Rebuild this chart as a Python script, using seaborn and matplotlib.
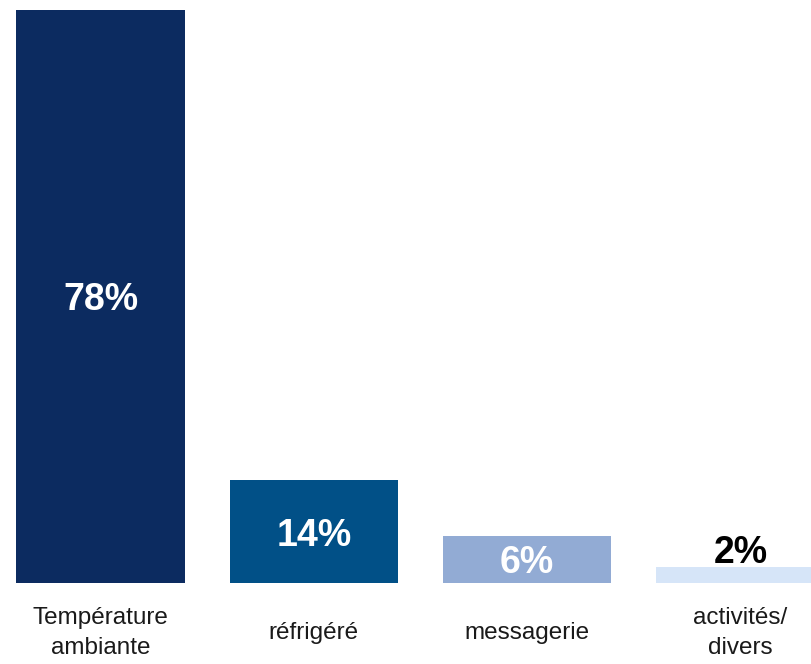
import matplotlib
matplotlib.use("Agg")
import matplotlib.pyplot as plt
import seaborn as sns
import pandas as pd

categories = ["Température\nambiante", "réfrigéré", "messagerie", "activités/\ndivers"]
values = [78, 14, 6.4, 2.2]
labels = ["78%", "14%", "6%", "2%"]
colors = ["#0C2B60", "#015087", "#92ABD4", "#D6E5F8"]
label_colors = ["white", "white", "white", "black"]

sns.set_theme(style="white")
plt.rcParams["font.family"] = ["Liberation Sans", "DejaVu Sans"]

df = pd.DataFrame({"cat": categories, "val": values})

fig = plt.figure(figsize=(8.11, 6.64), dpi=100)
ax = fig.add_axes([0, 81 / 664, 1, 573 / 664])
sns.barplot(data=df, x="cat", y="val", hue="cat", palette=colors, legend=False,
            width=0.79, saturation=1, linewidth=0, ax=ax)
ax.set_xlim(-100.5 / 213.3, (811 - 100.5) / 213.3)
ax.set_ylim(0, 78)
for s in ax.spines.values():
    s.set_visible(False)
ax.set_xlabel("")
ax.set_ylabel("")
ax.set_yticks([])
ax.set_xticks([])

px = 78 / 573  # data units per pixel
for i, (v, lab, c) in enumerate(zip(values, labels, label_colors)):
    if c == "black":
        ax.text(i, v + 4 * px, lab, ha="center", va="baseline", fontsize=27,
                fontweight="bold", color=c)
    else:
        ax.text(i, v / 2 - 4 * px, lab, ha="center", va="center", fontsize=27,
                fontweight="bold", color=c)
    ax.text(i, -50 * px, categories[i], ha="center", va="center",
            fontsize=17.5, color="#1a1a1a", linespacing=1.5)

fig.savefig("out.png", dpi=100)
